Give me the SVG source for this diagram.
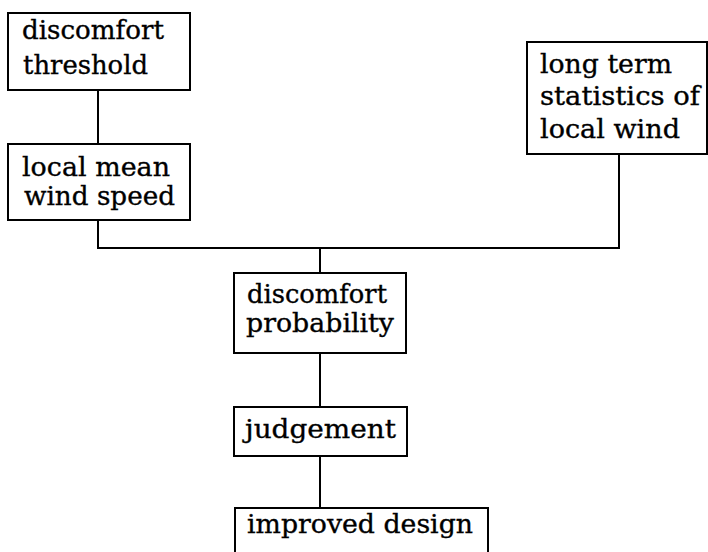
<svg xmlns="http://www.w3.org/2000/svg" width="708" height="552" viewBox="0 0 708 552">
<style>
.box{fill:#fff;stroke:#000;stroke-width:2}
.lbl{font-family:"DejaVu Serif","Liberation Serif",serif;font-size:26.5px;fill:#000;stroke:#000;stroke-width:0.35}
.conn{fill:none;stroke:#000;stroke-width:2}
</style>
<rect width="708" height="552" fill="#fff"/>
<g id="connectors">
<path class="conn" d="M98 90V144"/>
<path class="conn" d="M98 220V248H619V154"/>
<path class="conn" d="M320 248V273"/>
<path class="conn" d="M320 353V407"/>
<path class="conn" d="M320 456V508"/>
</g>
<g id="discomfort-threshold">
<rect class="box" x="8" y="13" width="182" height="77"/>
<text class="lbl" x="22" y="39" textLength="142" lengthAdjust="spacingAndGlyphs">discomfort</text>
<text class="lbl" x="23" y="74" textLength="125" lengthAdjust="spacingAndGlyphs">threshold</text>
</g>
<g id="local-mean-wind-speed">
<rect class="box" x="8" y="144" width="182" height="76"/>
<text class="lbl" x="22" y="176" textLength="148" lengthAdjust="spacingAndGlyphs">local mean</text>
<text class="lbl" x="24" y="205" textLength="151" lengthAdjust="spacingAndGlyphs">wind speed</text>
</g>
<g id="long-term-statistics">
<rect class="box" x="527" y="42" width="180" height="112"/>
<text class="lbl" x="540" y="73" textLength="132" lengthAdjust="spacingAndGlyphs">long term</text>
<text class="lbl" x="540" y="105" textLength="160" lengthAdjust="spacingAndGlyphs">statistics of</text>
<text class="lbl" x="540" y="138" textLength="140" lengthAdjust="spacingAndGlyphs">local wind</text>
</g>
<g id="discomfort-probability">
<rect class="box" x="234" y="273" width="172" height="80"/>
<text class="lbl" x="247" y="303" textLength="140" lengthAdjust="spacingAndGlyphs">discomfort</text>
<text class="lbl" x="246" y="332" textLength="148" lengthAdjust="spacingAndGlyphs">probability</text>
</g>
<g id="judgement">
<rect class="box" x="234" y="407" width="173" height="49"/>
<text class="lbl" x="245" y="438" textLength="151" lengthAdjust="spacingAndGlyphs">judgement</text>
</g>
<g id="improved-design">
<rect class="box" x="235" y="508" width="253" height="60"/>
<text class="lbl" x="247" y="533" textLength="226" lengthAdjust="spacingAndGlyphs">improved design</text>
</g>
</svg>
